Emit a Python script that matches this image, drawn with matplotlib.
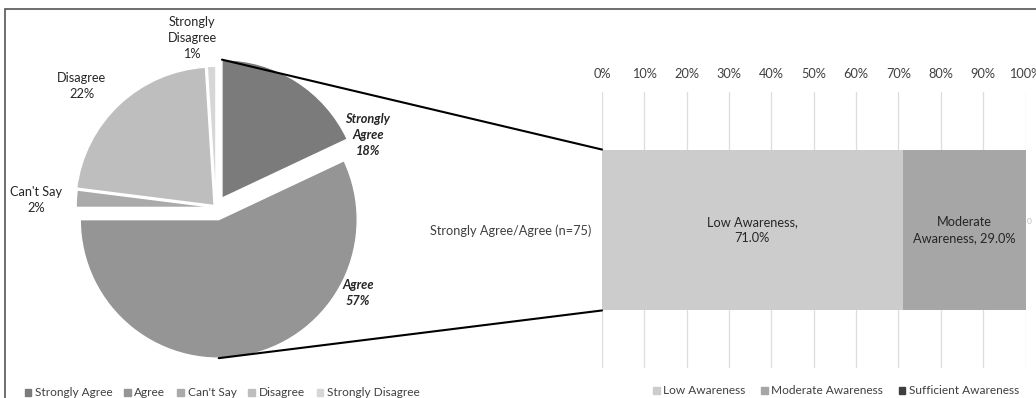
import matplotlib
matplotlib.use('Agg')
import matplotlib.pyplot as plt
import matplotlib.patches as mpatches
from matplotlib.patches import ConnectionPatch

plt.rcParams['font.family'] = ['Lato', 'DejaVu Sans']
plt.rcParams['font.size'] = 9.2

# Pie data: overall response
responses = ['Strongly Agree', 'Agree', "Can't Say", 'Disagree', 'Strongly Disagree']
response_pct = [18, 57, 2, 22, 1]
response_colors = ['#7b7b7b', '#959595', '#aaaaaa', '#bebebe', '#d6d6d6']
explode = [0.08, 0.09, 0.01, 0.02, 0.02]

# Bar data: awareness among Strongly Agree/Agree
group_label = 'Strongly Agree/Agree (n=75)'
awareness = ['Low Awareness', 'Moderate Awareness', 'Sufficient Awareness']
awareness_pct = [71.0, 29.0, 0.0]
awareness_colors = ['#cccccc', '#a6a6a6', '#3f3f3f']
pct_ticks = list(range(0, 101, 10))

W, H = 1036, 398
fig = plt.figure(figsize=(W / 100, H / 100), dpi=100)

# outer frame
fig.patches.append(mpatches.Rectangle((5 / W, -0.1), 1.2, 1.1 - 9 / H,
                                      transform=fig.transFigure, fill=False,
                                      edgecolor='#555555', linewidth=1.2))

# ---- pie ----
ax_pie = fig.add_axes([0.0347, 0.02626, 0.3476, 0.9048])
wedges, _ = ax_pie.pie(response_pct, colors=response_colors, explode=explode,
                       startangle=90, counterclock=False, radius=1,
                       wedgeprops=dict(edgecolor='white', linewidth=1))
ax_pie.set_xlim(-1.3, 1.3)
ax_pie.set_ylim(-1.3, 1.3)
ax_pie.set_aspect('auto')
ax_pie.axis('off')

pie_text = [
    ('Strongly\nAgree\n18%', (1.097, 0.523), True),
    ('Agree\n57%', (1.025, -0.617), True),
    ("Can't Say\n2%", (-1.30, 0.054), False),
    ('Disagree\n22%', (-0.968, 0.877), False),
    ('Strongly\nDisagree\n1%', (-0.173, 1.224), False),
]
for txt, (x, y), emph in pie_text:
    ax_pie.text(x, y, txt, ha='center', va='center', color='#262626',
                linespacing=1.4,
                fontweight='bold' if emph else 'normal',
                fontstyle='italic' if emph else 'normal')

# ---- stacked bar ----
ax_bar = fig.add_axes([602 / W, 30 / H, 423.5 / W, 276 / H])
left = 0
bar_h = 0.583
for name, val, col in zip(awareness, awareness_pct, awareness_colors):
    ax_bar.barh(0, val, left=left, height=bar_h, color=col, label=name)
    if val > 0:
        lbl = 'Low Awareness,\n71.0%' if name == 'Low Awareness' else 'Moderate\nAwareness, 29.0%'
        ax_bar.text(left + val / 2, 0.0, lbl, ha='center', va='center',
                    color='#262626', linespacing=1.4)
    else:
        ax_bar.text(left + 0.4, 0.03, f'{val:.0f}', ha='left', va='center',
                    color='#bbbbbb', fontsize=6)
    left += val

ax_bar.set_xlim(0, 100)
ax_bar.set_ylim(-0.5, 0.5)
ax_bar.xaxis.tick_top()
ax_bar.set_xticks(pct_ticks)
ax_bar.set_xticklabels([f'{t}%' for t in pct_ticks])
ax_bar.set_yticks([0])
ax_bar.set_yticklabels([group_label])
ax_bar.tick_params(axis='x', length=0, pad=9, colors='#404040', labelsize=9.2)
ax_bar.tick_params(axis='y', length=0, pad=8, colors='#404040', labelsize=9.2)
ax_bar.grid(axis='x', color='#dddddd', linewidth=0.9)
ax_bar.set_axisbelow(True)
for s in ax_bar.spines.values():
    s.set_visible(False)

# connector lines from the exploded wedges to the bar
sa = wedges[0]
ag = wedges[1]
p_top = (sa.center[0], sa.center[1] + sa.r)
p_bot = (ag.center[0], ag.center[1] - ag.r)
for p, yb in [(p_top, bar_h / 2), (p_bot, -bar_h / 2)]:
    con = ConnectionPatch(xyA=p, coordsA=ax_pie.transData,
                          xyB=(0, yb), coordsB=ax_bar.transData,
                          color='black', linewidth=1.5)
    fig.add_artist(con)

# legends
pie_handles = [mpatches.Patch(color=c, label=n) for n, c in zip(responses, response_colors)]
fig.legend(handles=pie_handles, loc='center', bbox_to_anchor=(222 / W, 5 / H),
           ncol=5, frameon=False, fontsize=8.6, handlelength=0.55, handleheight=0.55,
           columnspacing=1.0, handletextpad=0.3, labelcolor='#404040')
bar_handles = [mpatches.Patch(color=c, label=n) for n, c in zip(awareness, awareness_colors)]
fig.legend(handles=bar_handles, loc='center', bbox_to_anchor=(836 / W, 7 / H),
           ncol=3, frameon=False, fontsize=8.6, handlelength=0.55, handleheight=0.55,
           columnspacing=1.3, handletextpad=0.3, labelcolor='#404040')

fig.savefig('out.png', dpi=100)
